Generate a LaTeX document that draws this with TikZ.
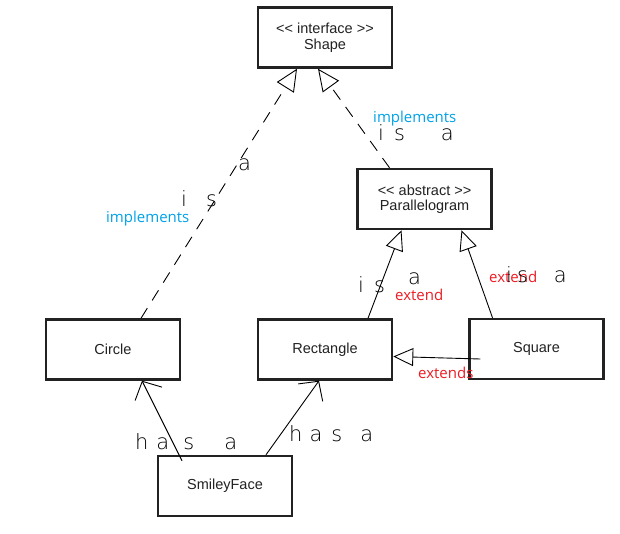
\documentclass[tikz,border=0pt]{standalone}
\usepackage{fontspec}
\setmainfont{Liberation Sans}
\newfontfamily\notefont{Open Sans}
\newfontfamily\scrawlfont{DejaVu Sans ExtraLight}
\usetikzlibrary{arrows.meta}
\definecolor{implblue}{RGB}{0,162,232}
\definecolor{extred}{RGB}{237,28,36}
\definecolor{boxline}{RGB}{34,34,34}
\begin{document}
\begin{tikzpicture}[x=1pt,y=-1pt,
  classbox/.style={draw=boxline,line width=2.5pt,fill=white,minimum width=134pt,minimum height=60pt,
    align=center,font=\fontsize{14.5}{15.5}\selectfont,text=boxline,inner sep=0pt},
  realize/.style={line width=0.9pt,dash pattern=on 12pt off 9pt,-{Triangle[open,length=22pt,width=20pt]}},
  inherit/.style={line width=0.9pt,-{Triangle[open,length=20pt,width=18pt]}},
  hasa/.style={line width=0.9pt,-{Straight Barb[length=14pt,width=30pt]}},
  bluelbl/.style={font=\notefont\fontsize{15}{18}\selectfont,text=implblue,inner sep=0pt,anchor=base west},
  redlbl/.style={font=\notefont\fontsize{15}{18}\selectfont,text=extred,inner sep=0pt,anchor=base west},
  scrawl/.style={font=\scrawlfont\fontsize{21}{21}\selectfont,inner sep=0pt,anchor=base west}
]
\useasboundingbox (0,0) rectangle (620,533);
\fill[white] (0,0) rectangle (620,533);

% classes
\node[classbox] (shape)  at (325,37.5)  {{<}{<} interface {>}{>}\\Shape};
\node[classbox] (para)   at (424.5,199) {{<}{<} abstract {>}{>}\\Parallelogram};
\node[classbox] (circ)   at (113,349.5) {Circle};
\node[classbox] (rect)   at (325,349.5) {Rectangle};
\node[classbox] (square) at (536.5,349) {Square};
\node[classbox] (smiley) at (225,486)   {SmileyFace};

% connectors
\draw[realize] ([xshift=28pt]circ.north) -- ([xshift=-28pt]shape.south);
\draw[realize] ([xshift=-35pt]para.north) -- ([xshift=-7pt]shape.south);
\draw[inherit] ([xshift=43pt]rect.north) -- ([xshift=-23pt]para.south);
\draw[inherit] ([xshift=-44pt]square.north) -- ([xshift=37pt]para.south);
\draw[inherit] ([xshift=12pt,yshift=-10pt]square.west) -- ([yshift=-7pt]rect.east);
\draw[hasa] ([xshift=-43pt,yshift=-6pt]smiley.north) -- ([xshift=29pt]circ.south);
\draw[hasa] ([xshift=41pt]smiley.north) -- ([xshift=-6pt]rect.south);

% typed labels
\node[bluelbl] (impl1) at (373,122) {implements};
\node[bluelbl] (impl2) at (106,222) {implements};
\node[redlbl] (ext1) at (395,300) {extend};
\node[redlbl] (ext2) at (489,282) {extend};
\node[redlbl] (ext3) at (418,378) {extends};

% hand-written labels
\node[scrawl] (isa1) at (378,140) {i\hspace{10pt}s\hspace{36pt}a};
\node[scrawl] (isa2) at (181,206) {i\hspace{19pt}s};
\node[scrawl] (isa2a) at (238,170) {a};
\node[scrawl] (isa3) at (358,292) {i\hspace{10pt}s};
\node[scrawl] (isa3a) at (408,284) {a};
\node[scrawl] (isa4) at (506,282) {i\hspace{5pt}s\hspace{26pt}a};
\node[scrawl] (hasa1) at (135,449) {h\hspace{8pt}a\hspace{14pt}s\hspace{30pt}a};
\node[scrawl] (hasa2) at (289,441) {h\hspace{7pt}a\hspace{9pt}s\hspace{18pt}a};
\end{tikzpicture}
\end{document}
